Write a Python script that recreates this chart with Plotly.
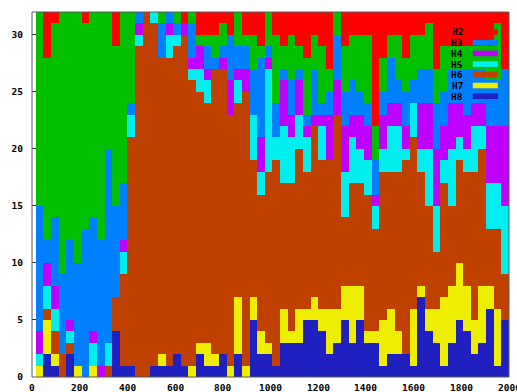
import plotly.graph_objects as go

# Bin centres (width 32) and per-bin counts for each state; every bin holds 32 samples.
x_centres = [32 * (i + 1) for i in range(62)]

h8 = [0, 2, 1, 0, 2, 0, 0, 0, 0, 0, 4, 1, 1, 0, 0, 1, 1, 1, 2, 1,
      0, 2, 1, 1, 2, 0, 2, 0, 5, 2, 2, 1, 3, 3, 3, 5, 5, 4, 2, 3,
      5, 3, 5, 3, 3, 1, 2, 2, 2, 1, 7, 4, 3, 1, 3, 5, 4, 2, 3, 6, 1, 5]
h7 = [1, 3, 1, 0, 0, 1, 0, 1, 0, 0, 0, 0, 0, 0, 0, 0, 1, 0, 0, 0,
      1, 1, 2, 1, 0, 1, 5, 1, 2, 2, 1, 0, 3, 1, 3, 1, 2, 2, 4, 3,
      3, 5, 3, 1, 1, 4, 4, 2, 0, 5, 1, 2, 3, 6, 5, 5, 4, 3, 5, 2, 5, 0]
h6 = [0, 1, 2, 2, 1, 0, 0, 0, 0, 1, 3, 8, 20, 29, 32, 30, 26, 27, 27, 29,
      25, 22, 21, 25, 25, 22, 17, 24, 12, 12, 15, 18, 11, 13, 14, 12, 15, 13, 13, 17,
      6, 9, 9, 12, 9, 13, 12, 14, 17, 15, 10, 9, 5, 10, 7, 9, 10, 13, 12, 5, 7, 4]
h5 = [1, 2, 2, 0, 1, 0, 0, 2, 0, 2, 0, 2, 2, 1, 0, 1, 0, 2, 1, 0,
      1, 2, 2, 0, 0, 0, 2, 0, 4, 2, 9, 2, 5, 4, 3, 3, 0, 3, 0, 0,
      4, 4, 3, 3, 2, 2, 4, 4, 1, 3, 2, 5, 4, 2, 5, 2, 2, 4, 2, 4, 4, 6]
h4 = [2, 2, 2, 0, 1, 0, 0, 1, 1, 0, 0, 1, 0, 1, 0, 0, 0, 1, 0, 1,
      1, 2, 1, 0, 1, 3, 1, 2, 0, 3, 1, 0, 4, 2, 3, 1, 1, 1, 4, 3,
      4, 2, 3, 3, 1, 3, 2, 2, 2, 0, 4, 4, 5, 3, 4, 3, 3, 2, 2, 5, 5, 7]
h3 = [11, 2, 6, 7, 7, 9, 13, 10, 11, 17, 8, 5, 1, 1, 0, 0, 3, 1, 1, 0,
      3, 0, 2, 1, 1, 4, 2, 2, 4, 7, 1, 3, 1, 3, 1, 1, 4, 1, 2, 4,
      3, 3, 2, 2, 3, 2, 4, 2, 3, 2, 3, 3, 4, 3, 3, 3, 4, 3, 3, 4, 4, 5]
hg = [17, 16, 17, 23, 20, 22, 18, 18, 20, 12, 14, 15, 8, 0, 0, 0, 1, 0, 1, 0,
      1, 1, 1, 2, 2, 0, 3, 1, 3, 1, 3, 6, 2, 4, 2, 5, 3, 5, 2, 2,
      4, 4, 5, 6, 3, 3, 2, 4, 3, 4, 3, 4, 3, 4, 2, 2, 2, 2, 2, 3, 5, 0]
h2 = [0, 4, 1, 0, 0, 0, 1, 0, 0, 0, 3, 0, 0, 0, 0, 0, 0, 0, 0, 1,
      0, 2, 2, 2, 1, 2, 0, 2, 2, 3, 0, 2, 3, 2, 3, 4, 2, 3, 5, 0,
      3, 2, 2, 2, 10, 4, 2, 2, 4, 2, 2, 1, 5, 3, 3, 3, 3, 3, 3, 3, 1, 5]

# Stack order bottom -> top, with gnuplot-style colours
series = [
    ("H8", h8, "#2020c0", True),
    ("H7", h7, "#eeee00", True),
    ("H6", h6, "#c04000", True),
    ("H5", h5, "#00eeee", True),
    ("H4", h4, "#c000ff", True),
    ("H3", h3, "#0080ff", True),
    ("", hg, "#00c000", False),
    ("H2", h2, "#ff0000", True),
]

x_ticks = [0, 200, 400, 600, 800, 1000, 1200, 1400, 1600, 1800, 2000]
y_ticks = [0, 5, 10, 15, 20, 25, 30]

FONT = dict(family="DejaVu Sans Mono", size=9.5, color="#000000", weight="bold")

fig = go.Figure()
for name, vals, col, _ in series:
    fig.add_trace(go.Bar(
        x=x_centres, y=vals, width=32, name=name,
        marker=dict(color=col, line=dict(width=0)),
        showlegend=False, hoverinfo="x+y+name",
    ))

W, H = 517, 392
ml, mr, mt, mb = 32, 8.3, 11.6, 15
pw, ph = W - ml - mr, H - mt - mb

def px_to_paper(px, py):
    return (px - ml) / pw, (H - mb - py) / ph

shapes = []
annotations = []

# Key: label on the left, colour sample on the right
keyed = [s for s in series if s[3]]
keyed = [keyed[-1]] + keyed[-2::-1]  # H2 first, then H3..H8
for i, (name, _, col, _) in enumerate(keyed):
    cy = 31.6 + 10.72 * i
    tx, ty = px_to_paper(465, cy)
    annotations.append(dict(
        x=tx, y=ty, xref="paper", yref="paper", text=name, showarrow=False,
        xanchor="right", yanchor="middle", font=FONT,
    ))
    x0, y0 = px_to_paper(472.5, cy + 2.8)
    x1, y1 = px_to_paper(497.5, cy - 2.8)
    shapes.append(dict(type="rect", xref="paper", yref="paper",
                       x0=x0, x1=x1, y0=y0, y1=y1,
                       fillcolor=col, line=dict(width=0), layer="above"))

# x tick labels written as text so the last one can run off the page edge
_, label_y = px_to_paper(0, 388)
for v in x_ticks:
    annotations.append(dict(
        x=v, y=label_y, xref="x", yref="paper", text=str(v), showarrow=False,
        xanchor="center", yanchor="middle", font=FONT,
    ))

# Plot frame
shapes.append(dict(type="rect", xref="paper", yref="paper", x0=0, x1=1, y0=0, y1=1,
                   line=dict(color="#5a5a5a", width=1), layer="above"))

fig.update_layout(
    width=W, height=H,
    margin=dict(l=ml, r=mr, t=mt, b=mb, pad=0),
    barmode="stack", bargap=0,
    plot_bgcolor="#ffffff", paper_bgcolor="#ffffff",
    font=FONT,
    showlegend=False,
    shapes=shapes, annotations=annotations,
    xaxis=dict(range=[0, 2000], tickvals=x_ticks, showticklabels=False,
               ticks="inside", ticklen=4, tickcolor="#333", showgrid=False,
               zeroline=False, showline=False, layer="below traces"),
    yaxis=dict(range=[0, 32], tickvals=y_ticks, ticktext=[str(v) for v in y_ticks],
               ticks="inside", ticklen=4, tickcolor="#333", showgrid=False,
               zeroline=False, showline=False, layer="below traces",
               tickfont=FONT, ticklabelstandoff=8),
)

fig.write_html("out.html")
